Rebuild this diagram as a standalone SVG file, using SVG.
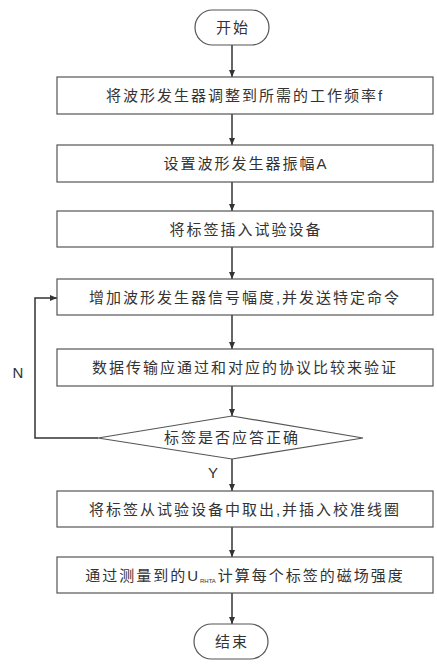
<svg xmlns="http://www.w3.org/2000/svg" width="437" height="667" viewBox="0 0 437 667">
<defs>
<style>
.box{fill:#fff;stroke:#555;stroke-width:1.2}
.ln{fill:none;stroke:#333;stroke-width:1.5}
.t{font-family:"Liberation Sans","Noto Sans CJK SC",sans-serif;font-size:15px;fill:#333;text-anchor:middle;letter-spacing:2px}
.lbl{font-family:"Liberation Sans","Noto Sans CJK SC",sans-serif;font-size:15px;fill:#333;text-anchor:middle}
</style>
<marker id="ah" markerWidth="8" markerHeight="8" refX="7" refY="4" orient="auto" markerUnits="userSpaceOnUse">
<path d="M0,1 L7,4 L0,7 Z" fill="#333"/>
</marker>
</defs>
<rect width="437" height="667" fill="#fff"/>
<g id="connectors">
<line class="ln" x1="232" y1="45" x2="232" y2="77" marker-end="url(#ah)"/>
<line class="ln" x1="232" y1="114" x2="232" y2="145" marker-end="url(#ah)"/>
<line class="ln" x1="232" y1="182" x2="232" y2="211" marker-end="url(#ah)"/>
<line class="ln" x1="232" y1="247" x2="232" y2="279" marker-end="url(#ah)"/>
<line class="ln" x1="232" y1="315" x2="232" y2="349" marker-end="url(#ah)"/>
<line class="ln" x1="232" y1="386" x2="232" y2="416" marker-end="url(#ah)"/>
<line class="ln" x1="232" y1="459" x2="232" y2="491" marker-end="url(#ah)"/>
<line class="ln" x1="232" y1="527" x2="232" y2="557" marker-end="url(#ah)"/>
<line class="ln" x1="232" y1="593" x2="232" y2="624" marker-end="url(#ah)"/>
<polyline class="ln" points="98,438 35,438 35,298 57,298" marker-end="url(#ah)"/>
<text class="lbl" x="18" y="378">N</text>
<text class="lbl" x="213" y="478">Y</text>
</g>
<g id="start">
<rect class="box" x="195" y="10" width="74" height="35" rx="17.5"/>
<text class="t" x="233" y="33">开始</text>
</g>
<g id="step1">
<rect class="box" x="57" y="77" width="376" height="37"/>
<text class="t" x="245" y="101">将波形发生器调整到所需的工作频率f</text>
</g>
<g id="step2">
<rect class="box" x="57" y="145" width="376" height="37"/>
<text class="t" x="246" y="169">设置波形发生器振幅A</text>
</g>
<g id="step3">
<rect class="box" x="57" y="211" width="376" height="36"/>
<text class="t" x="246" y="235">将标签插入试验设备</text>
</g>
<g id="step4">
<rect class="box" x="57" y="279" width="376" height="36"/>
<text class="t" x="245" y="303">增加波形发生器信号幅度,并发送特定命令</text>
</g>
<g id="step5">
<rect class="box" x="57" y="349" width="376" height="37"/>
<text class="t" x="245" y="373">数据传输应通过和对应的协议比较来验证</text>
</g>
<g id="decision">
<polygon class="box" points="232,416 363,438 232,459 98,438"/>
<text class="t" x="232" y="443">标签是否应答正确</text>
</g>
<g id="step6">
<rect class="box" x="57" y="491" width="376" height="36"/>
<text class="t" x="245" y="515">将标签从试验设备中取出,并插入校准线圈</text>
</g>
<g id="step7">
<rect class="box" x="57" y="557" width="376" height="36"/>
<text class="t" x="245" y="581">通过测量到的U<tspan font-size="6" letter-spacing="0" dy="2">RHTA</tspan><tspan dy="-2" dx="2">计算每个标签的磁场强度</tspan></text>
</g>
<g id="end">
<rect class="box" x="194" y="624" width="74" height="35" rx="17.5"/>
<text class="t" x="232" y="647">结束</text>
</g>
</svg>
